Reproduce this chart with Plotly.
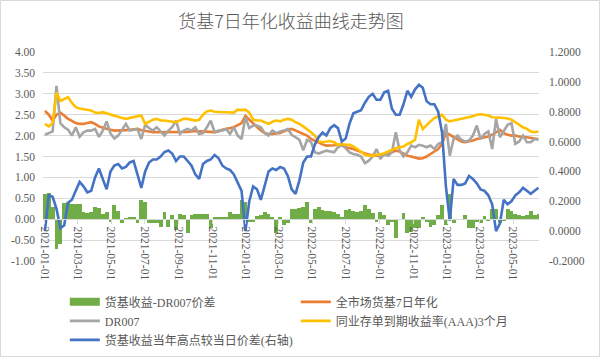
import pandas as pd
import plotly.graph_objects as go

# ---------------- data (weekly readings) ----------------
dates = pd.date_range("2021-01-01", periods=129, freq="7D")

spread_dr007 = [
    0.6, 0.62, 0.3, -0.72, -0.6, 0.38, 0.4, 0.36, 0.37, 0.37,
    0.18, 0.15, 0.17, 0.3, 0.28, 0.12, 0.17, -0.06, 0.33, 0.2,
    -0.1, 0.04, 0.05, 0.05, -0.1, 0.47, 0.42, -0.1, -0.1, -0.08,
    -0.18, 0.17, -0.18, 0.1, -0.26, 0.13, 0.1, -0.34, 0.1, 0.12,
    0.13, 0.12, 0.13, -0.22, 0.05, 0.05, 0.06, 0.06, 0.17, 0.13,
    0.13, 0.45, 0.4, -0.06, -0.06, 0.08, 0.1, 0.17, 0.12, 0.06,
    -0.34, 0.06, -0.14, -0.08, 0.25, 0.25, 0.27, 0.3, 0.41, -0.1,
    0.25, 0.29, 0.21, 0.2, 0.2, 0.17, 0.13, 0.06, 0.21, 0.25,
    0.2, 0.17, 0.2, 0.33, 0.25, 0.15, -0.06, 0.17, 0.1, -0.14,
    -0.06, -0.46, None, 0.15, -0.34, -0.3, -0.2, -0.22, 0.05, -0.06,
    -0.18, -0.14, 0.1, 0.33, -0.15, 0.6, -0.1, 0.0, None, 0.1,
    -0.22, -0.22, -0.06, -0.08, 0.08, -0.05, 0.25, 0.25, -0.1, -0.05,
    0.25, 0.2, 0.12, 0.1, 0.08, 0.1, 0.2, 0.1, 0.12,
]

mmf_7d = [
    2.59, 2.5, 2.36, 2.5, 2.55, 2.47, 2.4, 2.35, 2.3, 2.28,
    2.28, 2.3, 2.32, 2.28, 2.22, 2.19, 2.16, 2.14, 2.12, 2.12,
    2.13, 2.13, 2.14, 2.15, 2.16, 2.13, 2.12, 2.1, 2.08, 2.08,
    2.08, 2.08, 2.08, 2.09, 2.09, 2.08, 2.08, 2.09, 2.1, 2.11,
    2.1, 2.1, 2.1, 2.09, 2.08, 2.1, 2.14, 2.16, 2.18, 2.2,
    2.25, 2.3, 2.47, 2.38, 2.28, 2.2, 2.12, 2.06, 2.04, 2.04,
    2.05, 2.06, 2.1, 2.14, 2.16, 2.12, 2.08, 2.04, 2.0, 1.92,
    1.88, 1.82, 1.79, 1.76, 1.76, 1.77, 1.78, 1.76, 1.72, 1.7,
    1.68, 1.64, 1.6, 1.57, 1.55, 1.53, 1.52, 1.52, 1.54, 1.56,
    1.6, 1.64, 1.62, 1.56, 1.52, 1.5, 1.48, 1.45, 1.46, 1.5,
    1.56, 1.62, 1.68, 1.8, 2.06, 2.02, 1.96, 1.9, 1.86, 1.84,
    1.86, 1.88, 1.92, 1.94, 1.96, 1.98, 2.02, 2.08, 2.14, 2.06,
    2.02, 2.0, 2.0, 1.98, 1.96, 1.96, 1.94, 1.93, 1.92,
]

dr007 = [
    2.02, 2.06, 2.1, 3.19, 2.3, 2.2, 2.14, 2.0, 2.2, 1.97,
    2.08, 2.12, 2.12, 2.16, 1.97, 2.12, 2.34, 2.05, 1.93, 2.0,
    2.14, 2.28, 2.12, 2.14, 2.16, 1.92, 2.26, 2.18, 2.12, 2.2,
    2.1, 2.0, 2.12, 2.2, 2.36, 2.04, 2.12, 2.16, 2.12, 2.2,
    2.04, 2.06, 2.2, 2.36, 2.08, 2.12, 2.12, 2.16, 2.04, 2.2,
    2.0, 1.92, 2.44, 2.18, 2.24, 2.24, 2.2, 2.06, 2.0, 2.12,
    2.06, 2.1, 2.12, 2.16, 2.02, 1.95, 1.9, 1.65, 1.9, 1.85,
    1.6, 1.57, 1.6, 1.64, 1.62, 1.6, 1.72, 1.78, 1.7, 1.6,
    1.56, 1.54, 1.5, 1.34, 1.4, 1.5, 1.68, 1.44, 1.56, 1.52,
    1.6, 2.08, 1.64, 1.5, 1.6, 1.76, 1.72, 1.78, 1.76, 1.72,
    1.76, 1.68, 1.8, 1.84, 2.28, 1.52, 1.92, 2.0, 1.9, 1.86,
    1.88, 2.0, 2.24, 1.92, 2.04, 2.1, 1.68, 2.4, 1.96, 2.12,
    2.26, 2.3, 1.8, 1.86, 2.0, 1.84, 1.84, 1.92, 1.9,
]

ncd_aaa_3m = [
    2.28, 2.22, 2.3, 3.03, 2.83, 2.88, 2.92, 2.78, 2.68, 2.65,
    2.63, 2.62, 2.6, 2.55, 2.54, 2.56, 2.53, 2.5, 2.47, 2.44,
    2.42, 2.4, 2.42, 2.45, 2.47, 2.48, 2.28, 2.34, 2.38, 2.4,
    2.36, 2.36, 2.35, 2.33, 2.32, 2.36, 2.4, 2.4, 2.38, 2.36,
    2.38, 2.5, 2.58, 2.6, 2.57, 2.56, 2.56, 2.56, 2.55, 2.55,
    2.62, 2.61, 2.62, 2.55, 2.38, 2.36, 2.36, 2.32, 2.28, 2.33,
    2.36, 2.34, 2.38, 2.4, 2.38, 2.32, 2.28, 2.22, 2.16, 2.08,
    2.0, 1.86, 1.84, 1.86, 1.87, 1.84, 1.78, 1.8, 1.78, 1.78,
    1.74, 1.68, 1.6, 1.54, 1.52, 1.52, 1.54, 1.55, 1.58, 1.62,
    1.66, 1.7, 1.72, 1.74, 1.8, 1.84, 1.9, 2.38, 2.16, 2.26,
    2.34, 2.42, 2.46, 2.5, 2.38, 2.34, 2.36, 2.38, 2.4, 2.42,
    2.44, 2.46, 2.5, 2.51, 2.5, 2.48, 2.44, 2.44, 2.43, 2.42,
    2.41, 2.38, 2.32, 2.24, 2.2, 2.16, 2.1, 2.08, 2.1,
]

gap_to_year_high = [
    0.0, 0.24, 0.23, 0.15, 0.02, 0.04, 0.19, 0.21, 0.27, 0.33,
    0.3, 0.26, 0.27, 0.36, 0.42, 0.35, 0.28, 0.4, 0.44, 0.45,
    0.42, 0.43, 0.46, 0.47, 0.38, 0.29, 0.4, 0.46, 0.48, 0.48,
    0.5, 0.53, 0.54, 0.52, 0.47, 0.5, 0.5, 0.47, 0.44, 0.38,
    0.35, 0.45, 0.47, 0.48, 0.51, 0.49, 0.44, 0.42, 0.41, 0.38,
    0.32, 0.27, 0.0, 0.2, 0.3, 0.28, 0.21, 0.31, 0.4, 0.42,
    0.41, 0.43, 0.42, 0.37, 0.28, 0.25, 0.34, 0.46, 0.5, 0.5,
    0.58, 0.63, 0.66, 0.64, 0.69, 0.71, 0.69, 0.6, 0.62, 0.72,
    0.79, 0.8, 0.81, 0.86, 0.9, 0.92, 0.88, 0.88, 0.93, 0.94,
    0.82, 0.78, 0.78, 0.85, 0.94, 0.9, 0.95, 0.98, 0.96, 0.87,
    0.85, 0.85, 0.8, 0.66, 0.3, 0.07, 0.35, 0.31, 0.31, 0.32,
    0.37, 0.35, 0.32, 0.28, 0.27, 0.24, 0.18, 0.0, 0.05, 0.21,
    0.18, 0.2, 0.24, 0.26, 0.29, 0.27, 0.25, 0.27, 0.29,
]

left_tickvals = [-1.0, -0.5, 0.0, 0.5, 1.0, 1.5, 2.0, 2.5, 3.0, 3.5, 4.0]
left_ticktext = ["-1.00", "-0.50", "0.00", "0.50", "1.00", "1.50", "2.00",
                 "2.50", "3.00", "3.50", "4.00"]
right_tickvals = [-0.2, 0.0, 0.2, 0.4, 0.6, 0.8, 1.0, 1.2]
right_ticktext = ["-0.2000", "0.0000", "0.2000", "0.4000", "0.6000",
                  "0.8000", "1.0000", "1.2000"]

names = ["货基收益-DR007价差", "全市场货基7日年化", "DR007",
         "同业存单到期收益率(AAA)3个月", "货基收益当年高点较当日价差(右轴)"]

# ---------------- figure ----------------
TXT = "#595959"
SERIF = "Liberation Serif"
LEG = "Liberation Serif, Noto Sans CJK SC"
GREEN = "#70AD47"

fig = go.Figure()
# legend-only entry so the bar series shows a wide rectangular key
fig.add_trace(go.Scatter(x=[None], y=[None], name=names[0], mode="lines",
                         line=dict(color=GREEN, width=8), hoverinfo="skip"))
fig.add_trace(go.Bar(x=dates, y=spread_dr007, name=names[0], showlegend=False,
                     marker=dict(color=GREEN, line=dict(width=0))))
fig.add_trace(go.Scatter(x=dates, y=mmf_7d, name=names[1], mode="lines",
                         line=dict(color="#ED7D31", width=2.6)))
fig.add_trace(go.Scatter(x=dates, y=dr007, name=names[2], mode="lines",
                         line=dict(color="#A5A5A5", width=2.6)))
fig.add_trace(go.Scatter(x=dates, y=ncd_aaa_3m, name=names[3], mode="lines",
                         line=dict(color="#FFC000", width=2.6)))
fig.add_trace(go.Scatter(x=dates, y=gap_to_year_high, name=names[4], mode="lines",
                         line=dict(color="#4472C4", width=2.6), yaxis="y2"))

fig.update_layout(
    width=600, height=357,
    margin=dict(l=43, r=61, t=52, b=96, autoexpand=False),
    paper_bgcolor="white", plot_bgcolor="white",
    bargap=0,
    title=dict(text="货基7日年化收益曲线走势图", x=0.5, xanchor="center",
               y=1 - 22 / 357, yanchor="middle", xref="paper",
               font=dict(family="Noto Sans CJK SC", size=18, color=TXT, weight=300)),
    xaxis=dict(type="date", range=["2020-12-28 12:00", "2023-06-17"],
               anchor="free", position=0.2,
               tick0="2021-01-01", dtick="M2", tickformat="%Y-%m-%d",
               tickangle=90, ticks="outside", ticklen=4, tickcolor="#d9d9d9",
               showline=True, linecolor="#d9d9d9", linewidth=1,
               showgrid=False, zeroline=False,
               tickfont=dict(family=SERIF, size=11.5, color=TXT)),
    yaxis=dict(range=[-1, 4], domain=[0, 1], tickvals=left_tickvals,
               ticktext=left_ticktext, showgrid=True, gridcolor="#d9d9d9",
               gridwidth=1, zeroline=False, showline=False, ticks="",
               ticklabelstandoff=7,
               tickfont=dict(family=SERIF, size=11.5, color=TXT)),
    yaxis2=dict(range=[-0.2, 1.2], overlaying="y", side="right",
                tickvals=right_tickvals, ticktext=right_ticktext,
                showgrid=False, zeroline=False, showline=False, ticks="",
                ticklabelstandoff=9,
                tickfont=dict(family=SERIF, size=11.5, color=TXT)),
    legend=dict(orientation="h", x=0.044, y=-0.126, xanchor="left", yanchor="top",
                entrywidth=186, traceorder="normal", bgcolor="rgba(0,0,0,0)",
                font=dict(family=LEG, size=12, color=TXT), tracegroupgap=0),
    showlegend=True,
    shapes=[dict(type="rect", xref="paper", yref="paper",
                 x0=-42.5 / 496, x1=556.5 / 496, y0=-95.5 / 209, y1=260.5 / 209,
                 line=dict(color="#d9d9d9", width=1), fillcolor="rgba(0,0,0,0)",
                 layer="below")],
)

fig.write_html("out.html",
               config={"displayModeBar": False},
               post_script="document.body.style.margin='0px';"
                           "document.body.style.overflow='hidden';")
